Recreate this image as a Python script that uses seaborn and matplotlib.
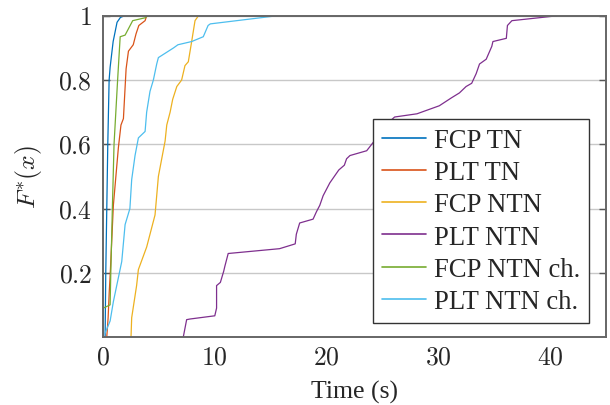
import numpy as np
import pandas as pd
import matplotlib
matplotlib.use("Agg")
import matplotlib.pyplot as plt
import seaborn as sns
from matplotlib.lines import Line2D

# ---- data ----
series_names = ["FCP TN", "PLT TN", "FCP NTN", "PLT NTN", "FCP NTN ch.", "PLT NTN ch."]
series_colors = ["#0072BD", "#D95319", "#EDB120", "#7E2F8E", "#77AC30", "#4DBEEE"]

fcp_tn_x = [0.18, 0.24, 0.33, 0.42, 0.54, 0.63, 0.9, 1.25, 1.55, 1.9]
fcp_tn_y = [0.0, 0.2, 0.4, 0.6, 0.8, 0.84, 0.92, 0.98, 0.995, 1.0]

plt_tn_x = [0.33, 0.45, 0.55, 0.63, 0.92, 1.37, 1.6, 1.82, 2.06, 2.27, 2.7, 2.95, 3.2, 3.76, 3.9]
plt_tn_y = [0.0, 0.06, 0.14, 0.19, 0.41, 0.59, 0.66, 0.68, 0.835, 0.89, 0.91, 0.944, 0.97, 0.985, 1.0]

fcp_ntn_x = [2.5, 2.56, 3.0, 3.16, 3.9, 4.05, 4.65, 4.95, 5.25, 5.55, 5.7, 6.0, 6.23, 6.6, 7.03, 7.33, 7.63, 7.93, 8.23, 8.53]
fcp_ntn_y = [0.0, 0.06, 0.16, 0.21, 0.28, 0.30, 0.38, 0.50, 0.555, 0.61, 0.66, 0.70, 0.74, 0.78, 0.80, 0.845, 0.857, 0.92, 0.985, 1.0]

plt_ntn_x = [7.18, 7.48, 7.78, 10.0, 10.16, 10.16, 10.5, 10.8, 10.9, 11.2, 15.8, 17.2, 17.3, 17.6, 18.8, 19.1,
             19.4, 19.7, 20.0, 20.3, 20.5, 21.1, 21.6, 21.8, 22.1, 23.6, 24.5, 25.3, 26.1, 28.1, 30.1, 31.2,
             31.9, 32.5, 33.0, 33.4, 33.7, 34.3, 34.8, 34.9, 36.1, 36.2, 36.6, 40.6]
plt_ntn_y = [0.0, 0.054, 0.056, 0.066, 0.09, 0.16, 0.17, 0.205, 0.22, 0.26, 0.275, 0.29, 0.32, 0.355, 0.367, 0.39,
             0.41, 0.44, 0.46, 0.48, 0.49, 0.52, 0.535, 0.555, 0.565, 0.58, 0.62, 0.66, 0.685, 0.695, 0.72, 0.745,
             0.76, 0.78, 0.79, 0.82, 0.85, 0.865, 0.905, 0.92, 0.93, 0.97, 0.985, 1.0]

fcp_ntn_ch_x = [0.0, 0.02, 0.63, 0.69, 0.83, 0.98, 1.3, 1.53, 1.97, 2.65, 3.76, 4.0]
fcp_ntn_ch_y = [0.0, 0.09, 0.10, 0.2, 0.4, 0.6, 0.8, 0.935, 0.94, 0.985, 0.994, 1.0]

plt_ntn_ch_x = [0.18, 0.63, 0.92, 1.22, 1.67, 1.97, 2.4, 2.56, 2.86, 3.16, 3.76, 3.9, 4.2, 4.5, 4.8, 4.95,
                6.3, 6.7, 7.93, 8.97, 9.4, 9.6, 15.5]
plt_ntn_ch_y = [0.012, 0.05, 0.11, 0.16, 0.235, 0.35, 0.40, 0.49, 0.565, 0.62, 0.64, 0.70, 0.765, 0.80, 0.85, 0.87,
                0.90, 0.91, 0.92, 0.935, 0.97, 0.975, 1.0]

x_ticks = [0, 10, 20, 30, 40]
y_ticks = [0.2, 0.4, 0.6, 0.8, 1.0]
y_tick_labels = ["0.2", "0.4", "0.6", "0.8", "1"]

all_x = [fcp_tn_x, plt_tn_x, fcp_ntn_x, plt_ntn_x, fcp_ntn_ch_x, plt_ntn_ch_x]
all_y = [fcp_tn_y, plt_tn_y, fcp_ntn_y, plt_ntn_y, fcp_ntn_ch_y, plt_ntn_ch_y]

frames = []
for name, xs, ys in zip(series_names, all_x, all_y):
    frames.append(pd.DataFrame({"series": name, "x": xs, "y": ys, "order": np.arange(len(xs))}))
df = pd.concat(frames, ignore_index=True)

# ---- style ----
sns.set_theme(style="white")
plt.rcParams["font.family"] = ["Liberation Serif", "DejaVu Serif"]
plt.rcParams["mathtext.fontset"] = "cm"

fig = plt.figure(figsize=(6.1, 4.06), dpi=100)
ax = fig.add_axes([0.169, 0.1675, 0.824, 0.791])

palette = dict(zip(series_names, series_colors))
sns.lineplot(data=df, x="x", y="y", hue="series", hue_order=series_names, palette=palette,
             sort=False, estimator=None, units="series", linewidth=0.9, ax=ax, legend=False)

ax.set_xlim(0, 45)
ax.set_ylim(0.0, 1.0)
ax.set_xticks(x_ticks)
ax.set_xticklabels([f"${t}$" for t in x_ticks])
ax.set_yticks(y_ticks)
ax.set_yticklabels([f"${t}$" for t in y_tick_labels])
ax.tick_params(axis="x", length=0, labelsize=18.5, pad=7)
ax.tick_params(axis="y", direction="in", length=5, width=1.0, color="#555555", labelsize=18.5,
               left=True, right=True, pad=8)
ax.yaxis.grid(True, color="#c8c8c8", linewidth=1.0)
ax.xaxis.grid(False)
for s in ax.spines.values():
    s.set_color("#666666")
    s.set_linewidth(1.4)

ax.set_xlabel("Time (s)", fontsize=18.5, labelpad=8)
ax.set_ylabel(r"$F^{*}(x)$", fontsize=18.5, labelpad=10)

handles = [Line2D([0], [0], color=c, linewidth=1.2) for c in series_colors]
leg = ax.legend(handles, series_names, loc="lower right", bbox_to_anchor=(0.966, 0.044),
                borderaxespad=0, fontsize=19.2, frameon=True, fancybox=False, framealpha=1,
                edgecolor="#333333", handlelength=1.65, handletextpad=0.3, labelspacing=0.27,
                borderpad=0.33)
leg.get_frame().set_linewidth(1.0)

fig.savefig("out.png", dpi=100)
